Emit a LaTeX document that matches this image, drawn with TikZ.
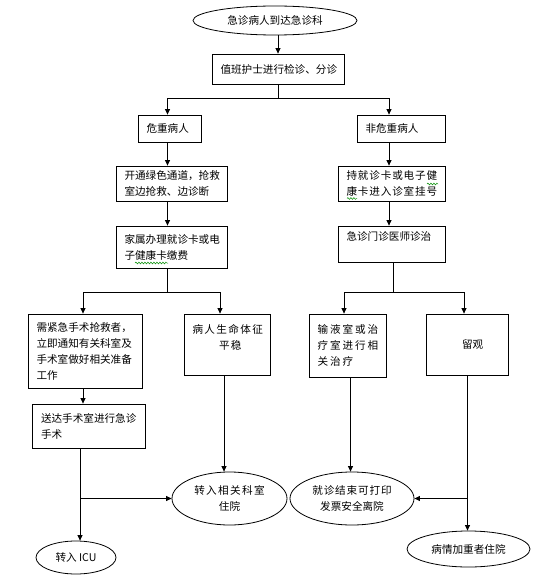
\documentclass[tikz,border=0pt]{standalone}
\usepackage{fontspec}
\setmainfont{Noto Sans CJK SC}
\newfontfamily\spA[LetterSpace=13]{Noto Sans CJK SC}
\newfontfamily\spB[LetterSpace=8]{Noto Sans CJK SC}
\newfontfamily\spC[LetterSpace=18]{Noto Sans CJK SC}
\usetikzlibrary{arrows.meta,shapes.geometric,decorations.pathmorphing}
\tikzset{
  every node/.style={font=\fontsize{10.6}{16}\selectfont},
  box/.style={draw, line width=0.8pt, inner xsep=8.5pt, inner ysep=0pt, align=left},
  oval/.style={draw, ellipse, line width=0.8pt, inner sep=0pt, align=center},
  ln/.style={line width=0.8pt},
  arr/.style={line width=0.8pt, -{Triangle[length=5.5pt,width=5pt]}},
  wavy/.style={draw=green!55!black, line width=0.5pt, decorate, decoration={snake, amplitude=0.9pt, segment length=3pt}}
}
\begin{document}
\begin{tikzpicture}[x=1pt,y=-1pt]
\useasboundingbox (0,0) rectangle (539,578);

% nodes
\node[oval, minimum width=164pt, minimum height=29pt] (start) at (275,20.5) {急诊病人到达急诊科};
\node[box, text width=115pt, minimum height=30pt] (b2) at (278,69) {值班护士进行检诊、分诊};
\node[box, text width=46pt, minimum height=27pt] (b3) at (169.5,128.5) {危重病人};
\node[box, text width=71pt, minimum height=27pt] (b4) at (401,128.5) {非危重病人};
\node[box, text width=94pt, minimum height=35pt] (b5) at (171.5,183.5) {开通绿色通道，抢救\\室边抢救、边诊断};
\node[box, text width=90pt, minimum height=35pt] (b6) at (391.5,183.5) {\spB 持就诊卡或电子健\\康卡进入诊室挂号};
\node[box, text width=94pt, minimum height=42pt] (b7) at (171.5,247) {家属办理就诊卡或电\\子健康卡缴费};
\node[box, text width=90pt, minimum height=36pt] (b8) at (391.5,244) {急诊门诊医师诊治\\\mbox{}};
\node[box, text width=97pt, minimum height=74pt] (b9) at (85,351) {需紧急手术抢救者，\\立即通知有关科室及\\手术室做好相关准备\\工作};
\node[box, text width=69pt, minimum height=61pt] (b10) at (227,344.5) {\spA 病人生命体征\\\hspace*{26.5pt}平稳\\\mbox{}};
\node[box, text width=60pt, minimum height=63pt] (b11) at (347.5,345.5) {\spC 输液室或治\\疗室进行相\\关治疗};
\node[box, text width=65pt, minimum height=61pt] (b12) at (467,344.5) {\hspace*{27.5pt}留观};
\node[box, text width=96pt, minimum height=44pt] (b13) at (89,426) {送达手术室进行急诊\\手术};
\node[oval, minimum width=115pt, minimum height=53pt] (e14) at (229.5,498.5) {\spA 转入相关科室\\住院};
\node[oval, minimum width=124pt, minimum height=53pt] (e15) at (352,498.5) {\spB 就诊结束可打印\\发票安全离院};
\node[oval, minimum width=123pt, minimum height=36pt] (e16) at (468.5,549) {病情加重者住院};
\node[oval, minimum width=80pt, minimum height=33pt] (e17) at (76,557.5) {转入 ICU};

% spell-check underlines
\draw[wavy] (427,184) -- (438,184);
\draw[wavy] (347,198.5) -- (357,198.5);
\draw[wavy] (135,263) -- (168,263);

% column positions
\coordinate (xL) at (167.5,0);
\coordinate (xR) at (389,0);
\coordinate (x8) at (393,0);
\coordinate (x9) at (83,0);
\coordinate (x10) at (220,0);
\coordinate (x11) at (344,0);
\coordinate (x12) at (464,0);
\coordinate (x13) at (80,0);
\coordinate (x14) at (224,0);
\coordinate (x15) at (350.5,0);
\coordinate (x16) at (467.5,0);
\coordinate (j1) at (278,98);
\coordinate (j2) at (167.5,292);
\coordinate (j3) at (393,292);

% connectors
\draw[arr] (start.south -| b2.north) -- (b2.north);
\draw[ln] (b2.south) -- (j1);
\draw[arr] (j1) -| (b3.north -| xL);
\draw[arr] (j1) -| (b4.north -| xR);
\draw[arr] (b3.south -| xL) -- (b5.north -| xL);
\draw[arr] (b4.south -| xR) -- (b6.north -| xR);
\draw[arr] (b5.south -| xL) -- (b7.north -| xL);
\draw[arr] (b6.south -| xR) -- (b8.north -| xR);
\draw[ln] (b7.south -| xL) -- (j2);
\draw[arr] (j2) -| (b9.north -| x9);
\draw[arr] (j2) -| (b10.north -| x10);
\draw[ln] (b8.south -| x8) -- (j3);
\draw[arr] (j3) -| (b11.north -| x11);
\draw[arr] (j3) -| (b12.north -| x12);
\draw[arr] (b9.south -| x9) -- (b13.north -| x9);
\draw[arr] (b13.south -| x13) -- (e17.north -| x13);
\draw[arr] (e14.west -| x13) -- (e14.west);
\draw[arr] (b10.south -| x14) -- (e14.north -| x14);
\draw[arr] (b11.south -| x15) -- (e15.north -| x15);
\draw[arr] (b12.south -| x16) -- (e16.north -| x16);
\draw[arr] (e15.east -| x16) -- (e15.east);
\end{tikzpicture}
\end{document}
